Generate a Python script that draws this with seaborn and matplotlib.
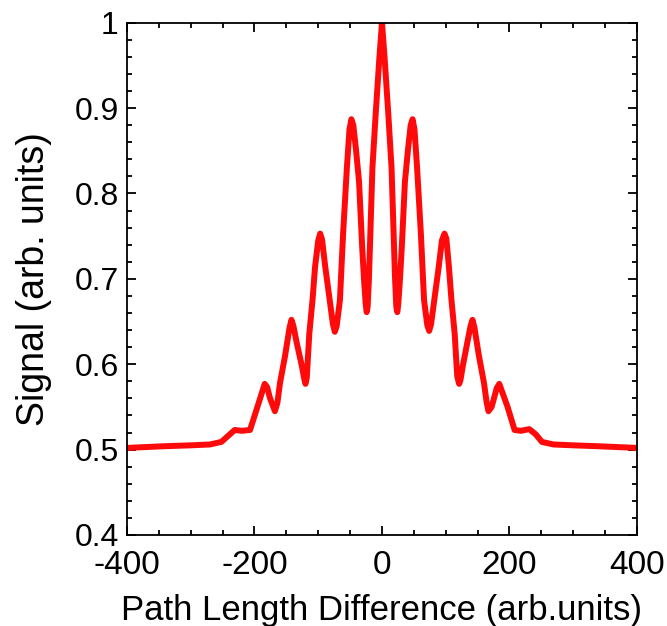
import matplotlib
matplotlib.use("Agg")
import matplotlib.pyplot as plt
from matplotlib.ticker import MultipleLocator, FuncFormatter
import seaborn as sns

# values
path_diff = [-400, -340, -300, -270, -252, -240, -231, -220, -207, -195,
             -184, -180, -176, -168, -164, -160, -152, -145, -142, -139,
             -134, -126, -122, -120, -118, -114, -109, -105, -100, -97,
             -94, -89, -82, -77, -74, -71, -66, -61, -55, -51,
             -48, -45, -41, -36, -33.5, -31, -28, -25.5, -24, -22.5,
             -20.5, -15, -10, -4, 0, 4, 10, 15, 20.5, 22.5,
             24, 25.5, 28, 31, 33.5, 36, 41, 45, 48, 51,
             55, 61, 66, 71, 74, 77, 82, 89, 94, 98,
             101, 105, 109, 114, 118, 121, 123, 127, 134, 139,
             142, 145, 152, 160, 164, 167, 172, 176, 180, 184,
             197, 208, 218, 231, 241, 251, 269, 300, 337, 400]
signal = [0.502, 0.504, 0.505, 0.506, 0.509, 0.517, 0.523, 0.522, 0.523, 0.551,
          0.577, 0.573, 0.561, 0.545, 0.555, 0.578, 0.610, 0.643, 0.652, 0.645,
          0.626, 0.599, 0.583, 0.577, 0.584, 0.636, 0.675, 0.714, 0.745, 0.753,
          0.746, 0.714, 0.675, 0.647, 0.638, 0.645, 0.675, 0.753, 0.831, 0.875,
          0.887, 0.880, 0.853, 0.814, 0.775, 0.736, 0.697, 0.670, 0.661, 0.667,
          0.700, 0.830, 0.892, 0.960, 1.000, 0.960, 0.892, 0.830, 0.700, 0.667,
          0.661, 0.670, 0.697, 0.736, 0.775, 0.814, 0.853, 0.880, 0.887, 0.875,
          0.831, 0.753, 0.675, 0.646, 0.639, 0.647, 0.675, 0.714, 0.745, 0.753,
          0.747, 0.714, 0.675, 0.636, 0.586, 0.577, 0.581, 0.599, 0.626, 0.645,
          0.652, 0.643, 0.610, 0.578, 0.556, 0.545, 0.550, 0.561, 0.572, 0.577,
          0.550, 0.523, 0.522, 0.524, 0.518, 0.509, 0.506, 0.505, 0.504, 0.502]

sns.set_style("ticks")
plt.rcParams['font.family'] = ['Liberation Sans', 'DejaVu Sans']
plt.rcParams['axes.unicode_minus'] = False
plt.rcParams['text.color'] = 'black'
plt.rcParams['axes.labelcolor'] = 'black'
plt.rcParams['xtick.labelcolor'] = 'black'
plt.rcParams['ytick.labelcolor'] = 'black'

fig = plt.figure(figsize=(6.67, 6.26), dpi=100)
ax = fig.add_axes([0.1904, 0.1454, 0.7646, 0.8183])

sns.lineplot(x=path_diff, y=signal, color='#ff0a0a', linewidth=4.3, ax=ax,
             solid_joinstyle='round', solid_capstyle='round')

ax.set_xlim(-400, 400)
ax.set_ylim(0.4, 1.0)
ax.xaxis.set_major_locator(MultipleLocator(200))
ax.xaxis.set_minor_locator(MultipleLocator(50))
ax.yaxis.set_major_locator(MultipleLocator(0.1))
ax.yaxis.set_minor_locator(MultipleLocator(0.02))
ax.yaxis.set_major_formatter(FuncFormatter(lambda v, p: '%g' % round(v, 2)))

ax.tick_params(which='both', direction='in', top=True, right=True, width=1.3, color='black')
ax.tick_params(which='major', length=6.5)
ax.tick_params(which='minor', length=3.6)
ax.tick_params(axis='x', labelsize=24, pad=11)
ax.tick_params(axis='y', labelsize=23, pad=6)
for s in ax.spines.values():
    s.set_linewidth(1.3)
    s.set_color('black')

ax.set_xlabel("Path Length Difference (arb.units)", fontsize=25, labelpad=9)
ax.set_ylabel("Signal (arb. units)", fontsize=27, labelpad=16)

fig.savefig("out.png", dpi=100)
